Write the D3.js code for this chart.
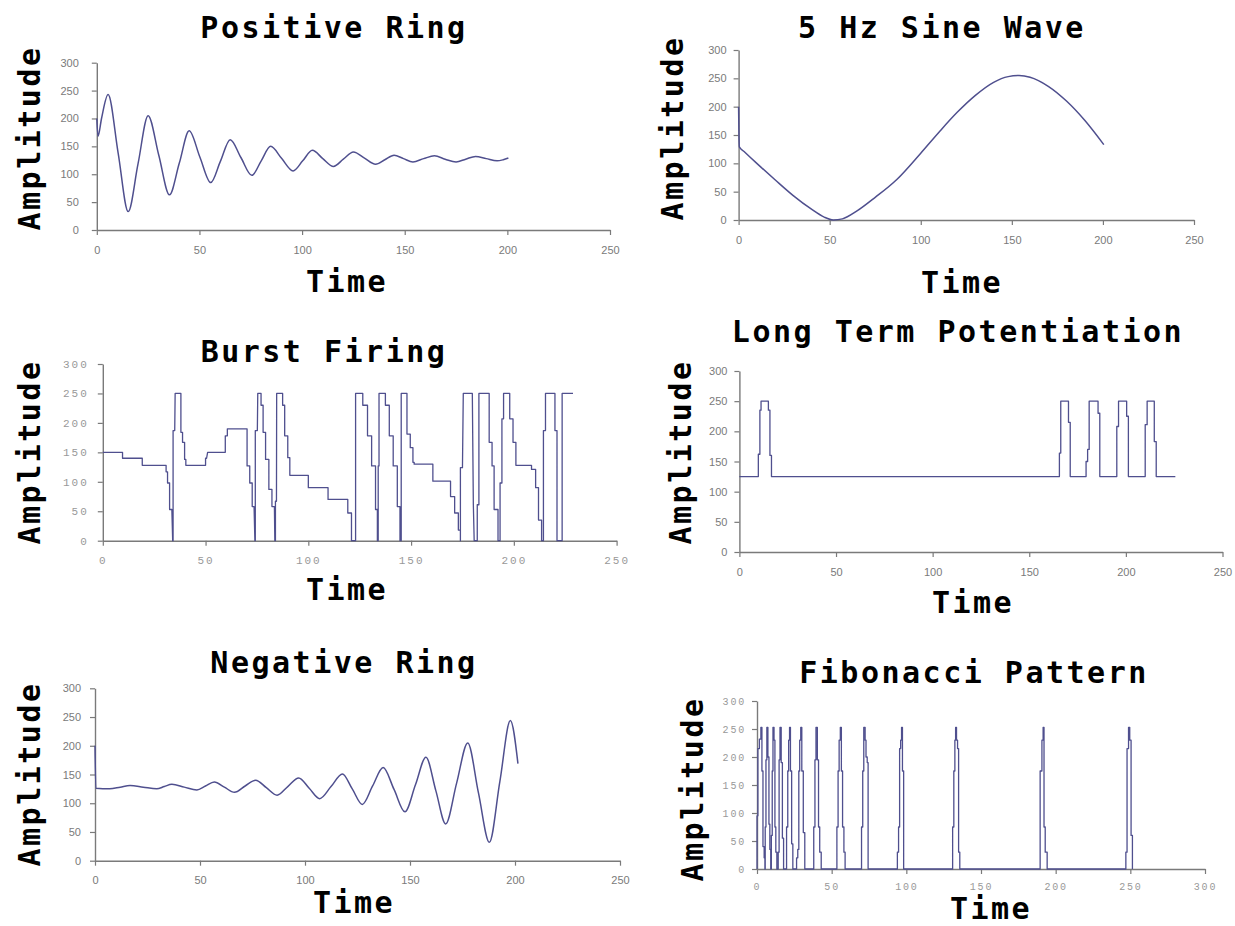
<!DOCTYPE html>
<html><head><meta charset="utf-8">
<script src="https://cdn.jsdelivr.net/npm/d3@7"></script>
<style>body{margin:0;background:#fff}svg{display:block}</style>
</head><body>
<svg id="c" width="1235" height="926"></svg>
<script>
// ---------- DATA ----------
const yTickValues = [0, 50, 100, 150, 200, 250, 300];
const xTickValues = [0, 50, 100, 150, 200, 250];
const fibXTickValues = [0, 50, 100, 150, 200, 250, 300];

const titles = ["Positive Ring", "5 Hz Sine Wave", "Burst Firing",
                "Long Term Potentiation", "Negative Ring", "Fibonacci Pattern"];
const xAxisTitle = "Time";
const yAxisTitle = "Amplitude";

// [time, amplitude]
const positiveRing = [[0,200],[0.6,168],[2.3,200],[5.5,243],[10.4,138],[15.3,33],[20.1,119],[25,205],
  [30.2,134],[35.4,63],[40.2,120],[45,178],[50.2,131],[55.5,85],[60.2,123],[65,162],[70.2,130],
  [75.5,98],[80.1,124],[84.7,150],[90.1,128],[95.6,106],[100.3,124],[105,143],[110.1,128],
  [115.3,114],[120.1,127],[125,140],[130.4,129],[135.8,118],[140.3,126],[144.8,134],[149.4,128],
  [154,122],[159.2,128],[164.5,133],[169.7,127],[175,122],[179.7,127],[184.5,132],[189.7,128],
  [195,124],[198,126],[200.5,129]];

const sineWave = [[0,200],[0.2,150],[0.4,129],[3,121],[10,100],[20,71],[30,43],[40,19],[47,5],[52,0],[57,2],
  [65,16],[75,40],[87,72],[100,118],[110,155],[120,190],[130,220],[140,243],[148,253],[154,255],
  [160,252],[170,236],[180,210],[190,176],[200.5,133]];

const burstFiring = [[0,150],[9.6,150],[9.6,140],[19.2,140],[19.2,128],[30.8,128],[30.8,117],[31.5,117],
  [31.5,98],[32.5,98],[32.5,53],[33.6,53],[34,0],[34.2,0],[34.2,187],[35,187],[35.2,250],[38,250],
  [38,184],[38.8,184],[38.8,167],[39.8,167],[39.8,138],[40.4,138],[40.4,128],[50,128],[50,140],
  [50.5,140],[51,150],[59.6,150],[59.6,178],[60.6,178],[60.6,190],[70.2,190],[70.2,127],[71.5,127],
  [71.5,98],[72.7,98],[72.7,58],[73.6,58],[74,0],[74.2,0],[74.2,187],[75.2,187],[75.4,250],[77,250],
  [77,230],[78,230],[78,184],[79.2,184],[79.2,138],[80.8,138],[80.8,87],[82.3,87],[82.3,58],[83.5,58],
  [83.7,0],[84,0],[84,67],[84.5,67],[84.6,250],[87.5,250],[87.5,230],[88.5,230],[88.5,178],[90,178],
  [90,141],[91,141],[91,111],[100,111],[100,90],[109.6,90],[109.6,70],[119.2,70],[119.2,47],[121,47],
  [121,0],[123,0],[123,250],[126.5,250],[126.5,230],[128.8,230],[128.8,178],[130.8,178],[130.8,127],
  [132.7,127],[132.7,53],[133.6,53],[133.6,0],[134,0],[134,127],[134.4,127],[134.4,250],[137.5,250],
  [137.5,230],[139.4,230],[139.4,178],[141.3,178],[141.3,127],[143.3,127],[143.3,58],[144.6,58],
  [144.6,0],[145.2,0],[145.2,250],[148,250],[148,181],[149.6,181],[149.6,158],[150.9,158],[150.9,133],
  [151.5,133],[151.5,130],[160.6,130],[160.6,101],[169.2,101],[169.2,75],[171.2,75],[171.2,47],
  [173,47],[173,18],[174,18],[174,0],[174,124],[175,124],[175.4,250],[179.8,250],[180.3,61],[180.7,0],
  [182.2,0],[182.2,61],[183,61],[183,250],[188,250],[188,167],[189.4,167],[189.4,127],[190.4,127],
  [190.4,53],[192.3,53],[192.3,0],[193.3,0],[193.3,98],[194.2,98],[194.2,207],[195,207],[195,250],
  [198,250],[198,207],[199.6,207],[199.6,167],[201,167],[201,128],[208.6,128],[208.6,121],[210.6,121],
  [210.6,90],[212,90],[212,35],[213.5,35],[213.5,0],[214.4,0],[214.4,187],[215.4,187],[215.4,250],
  [220,250],[220,187],[221,187],[221,0],[223.5,0],[223.5,250],[228.8,250]];

const longTermPotentiation = [[0,125],[9.8,125],[9.8,162],[10.6,162],[10.6,235],[11.2,235],[11.2,250],
  [15,250],[15,235],[15.8,235],[15.8,160],[16.6,160],[16.6,125],[165.6,125],[165.6,164],[166.3,164],
  [166.3,250],[170.3,250],[170.3,215],[171.2,215],[171.2,125],[179.4,125],[179.4,150],[180.2,150],
  [180.2,170],[181,170],[181,250],[185.6,250],[185.6,230],[186.5,230],[186.5,125],[195.3,125],
  [195.3,208],[196.2,208],[196.2,250],[200.4,250],[200.4,225],[201.3,225],[201.3,125],[210,125],
  [210,211],[211,211],[211,250],[214.7,250],[214.7,183],[215.7,183],[215.7,125],[225.6,125]];

const negativeRing = [[0,200],[0.4,126],[7,125],[12,128],[16.7,131],[23,128],[29.4,125],[33,129],
  [36.6,133],[42.5,128],[48.5,123],[52.6,130],[56.8,137],[61.6,128],[66.4,119],[71.5,130],[76.5,140],
  [81.6,127],[86.7,114],[91.8,129],[97,144],[102,126],[107,108],[112.4,129],[117.8,151],[122.5,125],
  [127.3,98],[132.2,130],[137.2,162],[142.4,124],[147.6,85],[152.6,132],[157.6,180],[162.3,122],
  [167,64],[172.2,135],[177.5,205],[182.6,118],[187.8,32],[192.8,138],[197.8,244],[201.4,169]];

const fibonacciPattern = [
  [0,0],[0,95],[0.6,95],[0.6,215],[1.6,215],[1.6,232],[2.6,232],[2.6,253],[3.3,253],[3.3,175],[4,175],[4,40],[4.8,40],[4.8,20],[5.3,20],[5.3,0],
  [5.5,0],[5.5,75],[6,75],[6,195],[6.6,195],[6.6,253],[7.3,253],[7.3,200],[8,200],[8,80],[8.6,80],[8.6,35],[9.2,35],[9.2,0],
  [9.6,0],[9.6,60],[10.2,60],[10.2,175],[10.7,175],[10.7,253],[11.4,253],[11.4,230],[12,230],[12,75],[12.6,75],[12.6,30],[13.3,30],[13.3,0],
  [14.2,0],[14.2,30],[14.8,30],[14.8,195],[15.4,195],[15.4,253],[16.2,253],[16.2,190],[17,190],[17,55],[17.8,55],[17.8,0],
  [19.8,0],[19.8,75],[20.6,75],[20.6,175],[21.2,175],[21.2,230],[21.8,230],[21.8,253],[22.4,253],[22.4,175],[23.2,175],[23.2,45],[24,45],[24,0],
  [26.5,0],[26.5,20],[27.3,20],[27.3,35],[28,35],[28,175],[28.6,175],[28.6,230],[29.3,230],[29.3,253],[30,253],[30,175],[31,175],[31,65],[32,65],[32,0],
  [38,0],[38,75],[38.8,75],[38.8,195],[39.5,195],[39.5,253],[40.4,253],[40.4,195],[41.2,195],[41.2,75],[42,75],[42,30],[43,30],[43,0],
  [53.5,0],[53.5,75],[54.3,75],[54.3,175],[55,175],[55,230],[55.8,230],[55.8,253],[56.5,253],[56.5,175],[57.3,175],[57.3,75],[58.2,75],[58.2,30],[59,30],[59,0],
  [70,0],[70,75],[70.8,75],[70.8,175],[71.5,175],[71.5,253],[72.4,253],[72.4,230],[73,230],[73,200],[73.8,200],[73.8,190],[74.4,190],[74.4,0],
  [94,0],[94,30],[94.8,30],[94.8,75],[95.5,75],[95.5,215],[96.2,215],[96.2,230],[96.8,230],[96.8,253],[97.4,253],[97.4,175],[98.2,175],[98.2,0],
  [131,0],[131,75],[131.8,75],[131.8,175],[132.5,175],[132.5,230],[133,230],[133,253],[133.6,253],[133.6,230],[134.3,230],[134.3,215],[135,215],[135,30],[135.8,30],[135.8,0],
  [189.6,0],[189.6,175],[190.8,175],[190.8,230],[191.6,230],[191.6,253],[192.2,253],[192.2,75],[193,75],[193,30],[194.3,30],[194.3,0],
  [247,0],[247,30],[247.8,30],[247.8,215],[248.8,215],[248.8,253],[249.6,253],[249.6,230],[250.5,230],[250.5,60],[251.4,60],[251.4,0]];

// ---------- LAYOUT ----------
const panels = [
  {title:titles[0], data:positiveRing, smooth:true, xTicks:xTickValues, xMax:250,
   x0:96.8, x1:610, y0:230, y1:62.7, mono:false, gap:18,
   tX:334, tY:38, aX:40, aY:138, mX:347, mY:292},
  {title:titles[1], data:sineWave, smooth:true, xTicks:xTickValues, xMax:250,
   x0:738.6, x1:1194, y0:220, y1:50, mono:false, gap:12,
   tX:942, tY:38, aX:683, aY:128, mX:962, mY:293},
  {title:titles[2], data:burstFiring, smooth:false, xTicks:xTickValues, xMax:250,
   x0:102.8, x1:616.6, y0:540.7, y1:364, mono:true, gap:14,
   tX:324, tY:362, aX:40, aY:452, mX:347, mY:600},
  {title:titles[3], data:longTermPotentiation, smooth:false, xTicks:xTickValues, xMax:250,
   x0:739.4, x1:1222.5, y0:552, y1:371, mono:false, gap:12,
   tX:958, tY:342, aX:691, aY:452, mX:973, mY:613},
  {title:titles[4], data:negativeRing, smooth:true, xTicks:xTickValues, xMax:250,
   x0:95, x1:620, y0:860.7, y1:688.3, mono:false, gap:14,
   tX:344, tY:673, aX:40, aY:774, mX:354, mY:913},
  {title:titles[5], data:fibonacciPattern, smooth:false, xTicks:fibXTickValues, xMax:300,
   x0:757, x1:1205, y0:869, y1:701, mono:true, small:true, gap:11, xPad:9,
   tX:974, tY:683, aX:703, aY:789, mX:991, mY:919}
];

const svg = d3.select('#c');
svg.append('rect').attr('width',1235).attr('height',926).attr('fill','#fff');

const bigFont = "'DejaVu Sans Mono', monospace";

panels.forEach(p => {
  const x = d3.scaleLinear().domain([0, p.xMax]).range([p.x0, p.x1]);
  const y = d3.scaleLinear().domain([0, 300]).range([p.y0, p.y1]);
  const g = svg.append('g');

  const tickFont = p.mono ? "'Liberation Mono', monospace" : "'Liberation Sans', Arial, sans-serif";
  const tickSize = p.small ? 10 : 11;

  const gx = g.append('g')
    .attr('transform', `translate(0,${p.y0})`)
    .call(d3.axisBottom(x).tickValues(p.xTicks).tickSize(5).tickSizeOuter(0).tickPadding(p.xPad || 11));
  const gy = g.append('g')
    .attr('transform', `translate(${p.x0},0)`)
    .call(d3.axisLeft(y).tickValues(yTickValues).tickSize(5).tickSizeOuter(0).tickPadding(p.gap - 5));

  [gx, gy].forEach(a => {
    a.select('.domain').attr('stroke', '#7a7a7a').attr('stroke-width', 1.4);
    a.selectAll('.tick line').attr('stroke', '#7a7a7a').attr('stroke-width', 1.2);
    a.selectAll('.tick text')
      .attr('font-family', tickFont)
      .attr('font-size', tickSize)
      .attr('fill', p.mono ? '#999' : '#7a7a7a')
      .attr('letter-spacing', p.mono ? (p.small ? 1.8 : 2) : 0);
  });

  const line = d3.line().x(d => x(d[0])).y(d => y(d[1]))
    .curve(p.smooth ? d3.curveMonotoneX : d3.curveLinear);
  g.append('path').datum(p.data)
    .attr('d', line)
    .attr('fill', 'none')
    .attr('stroke', '#4f4f8e')
    .attr('stroke-width', p.smooth ? 1.5 : 1.3)
    .attr('stroke-linejoin', 'round');

  const txt = (s, tx, ty, rot) => g.append('text')
    .attr('transform', `translate(${tx},${ty})` + (rot ? ' rotate(-90)' : ''))
    .attr('text-anchor', 'middle')
    .attr('font-family', bigFont)
    .attr('font-weight', 'bold')
    .attr('font-size', 30)
    .attr('letter-spacing', 2.5)
    .attr('fill', '#000')
    .text(s);
  txt(p.title, p.tX, p.tY, false);
  txt(yAxisTitle, p.aX, p.aY, true);
  txt(xAxisTitle, p.mX, p.mY, false);
});
</script>
</body></html>
